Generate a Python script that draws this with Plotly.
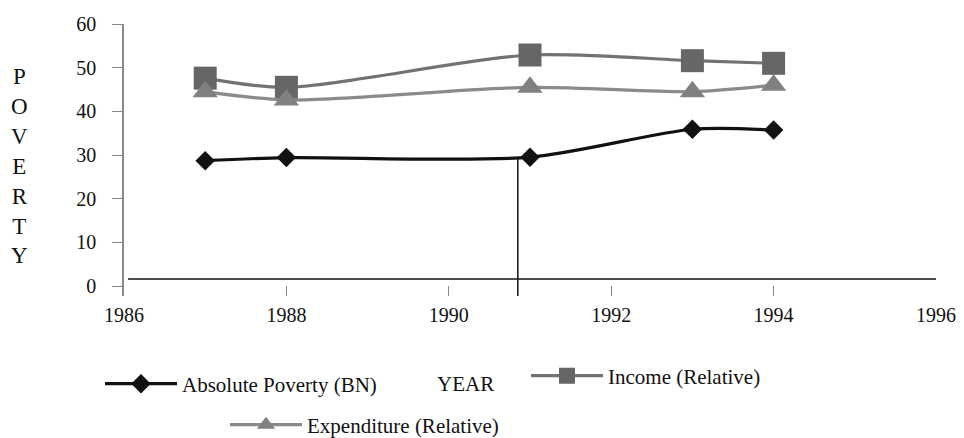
import plotly.graph_objects as go

years = [1987, 1988, 1991, 1993, 1994]
absolute_poverty = [28.7, 29.4, 29.5, 35.9, 35.7]
income_relative = [47.6, 45.5, 52.9, 51.6, 51.0]
expenditure_relative = [44.5, 42.6, 45.5, 44.5, 46.0]
x_ticks = [1986, 1988, 1990, 1992, 1994, 1996]
y_ticks = [0, 10, 20, 30, 40, 50, 60]

FONT = "Liberation Serif, Times New Roman, serif"

fig = go.Figure()
fig.add_trace(go.Scatter(
    x=years, y=absolute_poverty, name="Absolute Poverty (BN)", mode="lines+markers",
    line=dict(color="#111111", width=3.2, shape="spline", smoothing=0.8),
    marker=dict(symbol="diamond", size=15, color="#111111"),
    legend="legend"))
fig.add_trace(go.Scatter(
    x=years, y=income_relative, name="Income (Relative)", mode="lines+markers",
    line=dict(color="#727272", width=3.2, shape="spline", smoothing=0.8),
    marker=dict(symbol="square", size=23, color="#666666"),
    legend="legend2"))
fig.add_trace(go.Scatter(
    x=years, y=expenditure_relative, name="Expenditure (Relative)", mode="lines+markers",
    line=dict(color="#8a8a8a", width=3.2, shape="spline", smoothing=0.8),
    marker=dict(symbol="triangle-up", size=22, color="#808080"),
    legend="legend3"))

# plot area: x 124..936 px, y 24..296 px
L, R, T, B = 124, 936, 24, 296
W, H = R - L, B - T

def px(xp):
    return (xp - L) / W

def py(yp):
    return (B - yp) / H

IW = 72
legend_common = dict(font=dict(family=FONT, size=21, color="#111111"),
                     bgcolor="rgba(0,0,0,0)", borderwidth=0, itemwidth=IW,
                     xanchor="left", yanchor="middle", itemsizing="trace",
                     orientation="h")
OFF = 45 + (IW - 30)

fig.update_layout(
    width=964, height=438,
    margin=dict(l=L, r=964 - R, t=T, b=438 - B, autoexpand=False),
    paper_bgcolor="white", plot_bgcolor="white",
    font=dict(family=FONT, size=20, color="#111111"),
    showlegend=True,
    legend=dict(x=px(187 - OFF), y=py(384), **legend_common),
    legend2=dict(x=px(613 - OFF), y=py(376), **legend_common),
    legend3=dict(x=px(312 - OFF), y=py(425), **legend_common),
    xaxis=dict(range=[1986, 1996], tickvals=x_ticks, ticktext=[str(v) for v in x_ticks],
               showgrid=False, zeroline=False, showline=False,
               ticks="inside", ticklen=10, tickcolor="#888888", tickwidth=1,
               ticklabelstandoff=5,
               tickfont=dict(family=FONT, size=20, color="#111111")),
    yaxis=dict(range=[-2.29, 60], tickvals=y_ticks, showgrid=False, zeroline=False,
               showline=True, linecolor="#888888", linewidth=1.5,
               ticks="outside", ticklen=10, tickcolor="#888888", tickwidth=1,
               ticklabelstandoff=12,
               tickfont=dict(family=FONT, size=20, color="#111111")),
    shapes=[
        dict(type="line", xref="x", yref="y", x0=1986.05, x1=1996.05, y0=1.6, y1=1.6,
             line=dict(color="#111111", width=1.3)),
        dict(type="line", xref="x", yref="y", x0=1990.85, x1=1990.85, y0=-3.2, y1=29.4,
             line=dict(color="#111111", width=1.5)),
    ],
    annotations=[
        dict(text="P<br>O<br>V<br>E<br>R<br>T<br>Y", xref="paper", yref="paper",
             x=px(20), y=py(166), xanchor="center", yanchor="middle", showarrow=False,
             font=dict(family=FONT, size=23, color="#111111")),
        dict(text="YEAR", xref="paper", yref="paper", x=px(435), y=py(384),
             xanchor="left", yanchor="middle", showarrow=False,
             font=dict(family=FONT, size=21, color="#111111")),
    ],
)

fig.write_html("out.html", config={"displayModeBar": False},
               post_script="document.body.style.margin='0px';document.body.style.overflow='hidden';")
